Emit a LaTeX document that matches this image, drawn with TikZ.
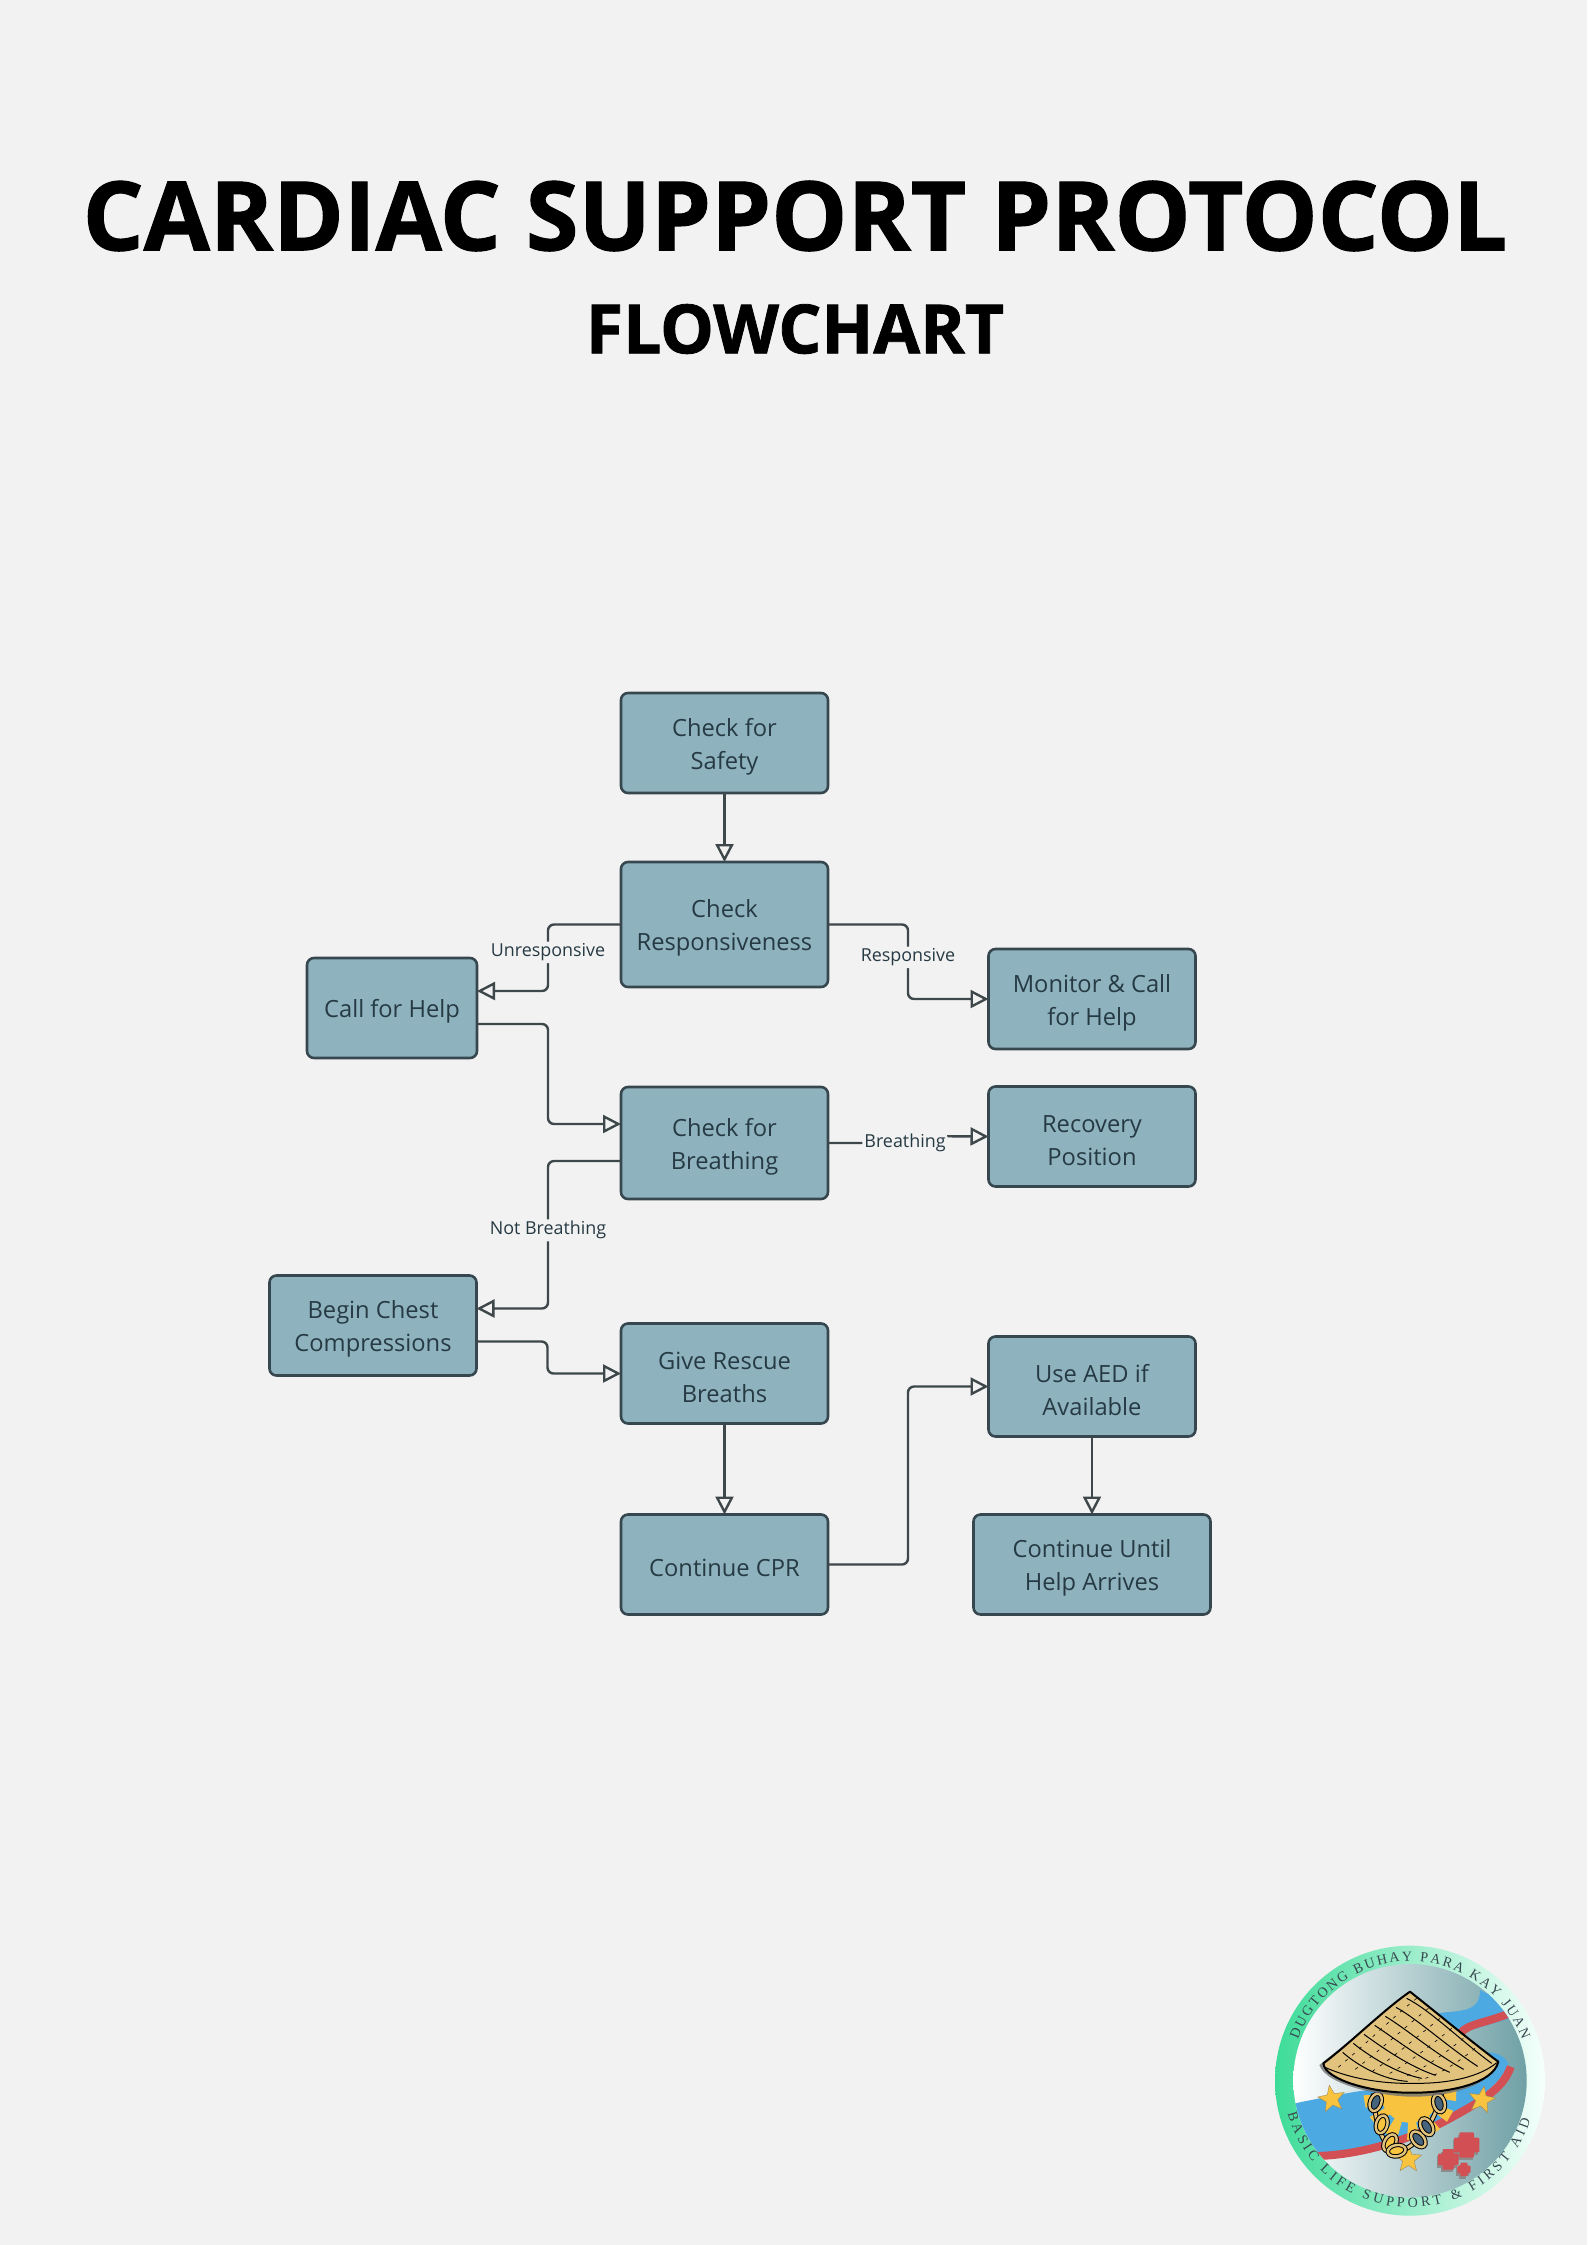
\documentclass[tikz,border=0pt]{standalone}
\usepackage{fontspec}
\setmainfont{Open Sans}
\newfontfamily\headfont[BoldFeatures={FakeBold=1.2}]{Open Sans}
\newfontfamily\logofont{Liberation Serif}
\usetikzlibrary{arrows.meta,shapes.geometric,decorations.text}
\definecolor{pagebg}{HTML}{F2F2F2}
\definecolor{boxfill}{HTML}{8EB3BE}
\definecolor{boxline}{HTML}{37474F}
\definecolor{boxtext}{HTML}{263A44}
\definecolor{flowcol}{HTML}{3E474A}
\definecolor{hatcol}{HTML}{E2C37E}
\definecolor{suncol}{HTML}{F8C33F}
\definecolor{riverblue}{HTML}{4DA9E2}
\definecolor{riverred}{HTML}{D24F54}
\definecolor{ringleft}{HTML}{3DDB98}
\definecolor{ringright}{HTML}{F6FFFC}
\definecolor{diskmid}{HTML}{B4CDD0}
\definecolor{diskright}{HTML}{6FA0A5}
\definecolor{linkhole}{HTML}{46657C}
\newcommand{\lowtext}{\rule{0pt}{12.5pt}}
\begin{document}
\begin{tikzpicture}[x=.5pt, y=-.5pt,
    main/.style = {draw=boxline, fill=boxfill, text=boxtext, align=center, rounded corners=3.5pt, line width=1.3pt, inner sep=0pt, outer sep=0pt, minimum width=103.5pt, minimum height=50pt, font=\fontsize{11.85}{16.5}\selectfont},
    flow/.style = {draw=flowcol, line width=1.2pt, rounded corners=3pt, -{Triangle[open, length=9pt, width=9pt, line width=1.2pt]}},
    lbl/.style = {fill=pagebg, text=boxtext, inner sep=1pt, font=\fontsize{8.95}{11}\selectfont},
    heading/.style = {text=black, font=\headfont\bfseries\fontsize{47.9}{50}\selectfont},
    logostar/.style = {star, star points=5, star point ratio=2.3, fill=suncol, draw=hatcol!70!black, line width=.2pt, inner sep=0pt, minimum size=14pt}]
  \fill[pagebg] (0,0) rectangle (1587,2245);

  \node[heading] (title) at (795,216) {CARDIAC SUPPORT PROTOCOL};
  \node[heading, font=\headfont\bfseries\fontsize{33.9}{36}\selectfont] (subtitle) at (795,329) {FLOWCHART};

  \node[main] (safety) at (724.5,743) {\lowtext Check for\\Safety};
  \node[main, minimum height=62.5pt] (resp) at (724.5,924.5) {\lowtext Check\\Responsiveness};
  \node[main, minimum width=85pt] (help) at (392,1008) {\lowtext Call for Help};
  \node[main] (monitor) at (1092,999) {\lowtext Monitor \& Call\\for Help};
  \node[main, minimum height=56pt] (breath) at (724.5,1143) {\lowtext Check for\\Breathing};
  \node[main] (recovery) at (1092,1136.5) {\lowtext Recovery\\Position};
  \node[main] (chest) at (373,1325.5) {\lowtext Begin Chest\\Compressions};
  \node[main] (rescue) at (724.5,1373.5) {\lowtext Give Rescue\\Breaths};
  \node[main] (cpr) at (724.5,1564.5) {\lowtext Continue CPR};
  \node[main] (aed) at (1092,1386.5) {\lowtext Use AED if\\Available};
  \node[main, minimum width=118.5pt] (until) at (1092,1564.5) {\lowtext Continue Until\\Help Arrives};

  \draw[flow] (safety) -- (resp);
  \draw[flow] (resp.west) -- ++(-73,0) |- node[lbl, pos=.21] {Unresponsive} ([yshift=8.5pt]help.east);
  \draw[flow] (resp.east) -- ++(80,0) |- node[lbl, pos=.22] {Responsive} (monitor.west);
  \draw[flow] ([yshift=-8pt]help.east) -- ++(71,0) |- ([yshift=9.5pt]breath.west);
  \draw[flow] (breath.east) -- ++(77,0) node[lbl] {Breathing} -- ++(0,-7) -- (recovery.west);
  \draw[flow] ([yshift=-9pt]breath.west) -- ++(-73,0) |- node[lbl, pos=.235] {Not Breathing} ([yshift=8.5pt]chest.east);
  \draw[flow] ([yshift=-8pt]chest.east) -- ++(71,0) |- (rescue.west);
  \draw[flow] (rescue) -- (cpr);
  \draw[flow] (cpr.east) -- ++(80,0) |- (aed.west);
  \draw[flow] (aed) -- (until);

  % logo, in its own frame
  \begin{scope}[shift={(1260,1930)}, x=.16667pt, y=-.16667pt]
    \shade[left color=ringleft, right color=ringright] (450,452) circle (405);
    \shade[left color=white, middle color=diskmid, right color=diskright] (450,452) circle (350);
    \begin{scope}
      \clip (450,452) circle (350);
      \fill[riverblue] (530,250) .. controls (600,240) and (660,250) .. (660,180) -- (800,250) -- (600,310) .. controls (570,290) and (550,270) .. (530,250) -- cycle;
      \draw[riverred, line width=4pt] (600,312) .. controls (620,280) and (680,280) .. (760,245);
      \fill[riverblue] (80,525) .. controls (250,490) and (350,470) .. (460,470) -- (640,370) .. controls (690,360) and (730,370) .. (745,400) .. controls (720,470) and (620,530) .. (560,560) .. controls (450,620) and (300,665) .. (170,672) -- cycle;
      \draw[riverred, line width=4pt] (170,678) .. controls (300,675) and (450,630) .. (570,565) .. controls (650,520) and (730,480) .. (752,410);
    \end{scope}
    % sun and stars
    \foreach \ang in {2,30,...,170}
      \fill[suncol] (450,490) -- ++(\ang-8:140) -- ++(\ang+90:38) -- cycle;
    \fill[suncol] (450,490) circle (88);
    \node[logostar, rotate=10] (starleft) at (215,507) {};
    \node[logostar, rotate=-10] (starright) at (665,510) {};
    \node[logostar] (starlow) at (445,688) {};
    % chain
    \draw[draw=black, double=hatcol, double distance=1.5pt, line width=.5pt] (340,490) .. controls (345,570) and (360,640) .. (410,668) .. controls (470,650) and (520,590) .. (545,490);
    \foreach \cx/\cy/\ang/\hole in {347/517/70/linkhole, 365/583/75/suncol, 390/638/60/suncol, 410/662/10/suncol, 475/628/-50/linkhole, 500/590/-60/linkhole, 537/520/-75/linkhole}
      \draw[draw=black, double=hatcol, double distance=1.2pt, line width=.5pt, fill=\hole, rotate around={\ang:(\cx,\cy)}] (\cx,\cy) ellipse (27 and 17);
    % hat
    \fill[black!55, opacity=.8] (440,195) -- (178,405) .. controls (200,470) and (380,500) .. (460,500) .. controls (560,500) and (690,470) .. (705,405) -- cycle;
    \draw[black, line width=1pt, line join=round, fill=hatcol] (450,185) .. controls (370,240) and (270,340) .. (190,400) .. controls (195,450) and (340,490) .. (460,488) .. controls (570,488) and (700,460) .. (715,395) .. controls (640,340) and (520,240) .. (450,185) -- cycle;
    \draw[black, line width=.5pt] (195,412) .. controls (280,450) and (380,462) .. (470,460) .. controls (570,460) and (660,440) .. (710,398);
    \foreach \d in {0,1,...,6}
      \draw[black, line width=.5pt] (440+\d*-32,205+\d*27) .. controls (510+\d*-36,240+\d*28) and (600+\d*-38,330+\d*20) .. (695+\d*-42,400+\d*9);
    \foreach \d in {0,1,...,5}
      \draw[black, line width=.3pt, dash pattern=on 1.6pt off 3pt] (470+\d*35,205+\d*30) .. controls (400+\d*38,260+\d*28) and (320+\d*42,340+\d*20) .. (225+\d*50,420+\d*6);
    % crosses
    \foreach \cx/\cy/\arm/\wid in {620/645/38/22, 565/688/31/17, 612/718/20/11} {
      \fill[black!45] (\cx-\arm-4,\cy-\wid+8) rectangle (\cx+\arm-4,\cy+\wid+8);
      \fill[black!45] (\cx-\wid-4,\cy-\arm+8) rectangle (\cx+\wid-4,\cy+\arm+8);
      \fill[riverred, rounded corners=.5pt] (\cx-\arm,\cy-\wid) rectangle (\cx+\arm,\cy+\wid);
      \fill[riverred, rounded corners=.5pt] (\cx-\wid,\cy-\arm) rectangle (\cx+\wid,\cy+\arm);
    }
    \path[postaction={decorate, decoration={text along path, text align={fit to path}, text={|\logofont\fontsize{7}{9}\selectfont\color{boxline}|DUGTONG BUHAY PARA KAY JUAN}}}]
      (450,452) ++(200:358) arc[start angle=200, delta angle=140, radius=358];
    \path[postaction={decorate, decoration={text along path, text align={fit to path}, text={|\logofont\fontsize{7}{9}\selectfont\color{boxline}|BASIC LIFE SUPPORT {\&} FIRST AID}}}]
      (450,452) ++(165:380) arc[start angle=165, delta angle=-147, radius=380];
  \end{scope}
\end{tikzpicture}
\end{document}
